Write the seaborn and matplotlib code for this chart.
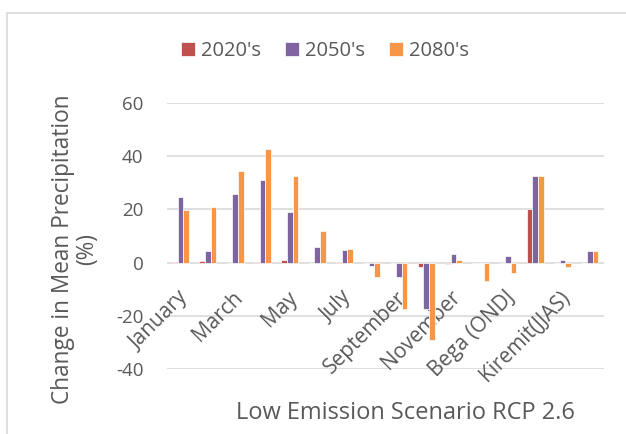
import matplotlib
matplotlib.use("Agg")
import matplotlib.pyplot as plt
from matplotlib.lines import Line2D
from matplotlib.transforms import ScaledTranslation
import seaborn as sns
import pandas as pd

# periods (monthly, seasonal, annual)
periods = ["January", "February", "March", "April", "May", "June", "July",
           "August", "September", "October", "November", "December",
           "Bega (ONDJ", "Belg (FMAM)", "Kiremit(JJAS)", "Annual"]
scenarios = ["2020's", "2050's", "2080's"]

# change in mean precipitation (%)
chg_2020 = [0.3, 0.8, 0.0, 0.4, 1.0, 0.0, 0.2, -0.3,
            -0.3, -1.7, -0.5, 0.0, -0.3, 20.0, 0.0, 0.0]
chg_2050 = [24.7, 4.4, 25.8, 31.0, 18.9, 5.8, 4.7, -1.1,
            -5.5, -17.2, 3.3, 0.0, 2.5, 32.4, 1.0, 4.3]
chg_2080 = [19.6, 20.9, 34.2, 42.5, 32.5, 11.8, 5.1, -5.2,
            -17.4, -29.0, 1.0, -6.8, -3.9, 32.4, -1.5, 4.3]
yticks = [-40, -20, 0, 20, 40, 60]

colors = ["#C0504D", "#8064A2", "#F79646"]
grey = "#595959"
grid = "#D9D9D9"

df = pd.DataFrame({
    "period": periods * 3,
    "scenario": [s for s in scenarios for _ in periods],
    "change": chg_2020 + chg_2050 + chg_2080,
})

sns.set_style("white")
plt.rcParams["font.family"] = ["Open Sans", "DejaVu Sans"]
plt.rcParams["axes.unicode_minus"] = False

fig = plt.figure(figsize=(6.26, 4.34), dpi=100)
ax = fig.add_axes([167 / 626, 1 - 369.3 / 434, 436.5 / 626, 266.6 / 434])

sns.barplot(data=df, x="period", y="change", hue="scenario", order=periods,
            hue_order=scenarios, palette=colors, saturation=1, width=0.62,
            ax=ax, edgecolor="white", linewidth=0.5, legend=True)

ax.set_ylim(-40, 60)
ax.set_xlim(-0.5, len(periods) - 0.5)
ax.set_yticks(yticks)
# gridlines behind the bars
for v in yticks:
    ax.axhline(v, color=grid, linewidth=1.2, zorder=0.5)
for s in ["left", "top", "right", "bottom"]:
    ax.spines[s].set_visible(False)
# category labels sit next to the zero line, like Excel
ax.spines["bottom"].set_position(("data", 0))

ax.tick_params(axis="x", length=0, pad=16)
ax.tick_params(axis="y", length=0, pad=17, labelsize=13.5, labelcolor=grey)
ax.set_xticks(range(0, len(periods), 2))
ax.set_xticklabels(periods[::2], rotation=45, ha="right", va="top",
                   rotation_mode="anchor", fontsize=15, color=grey)
shift = ScaledTranslation(-0.03, -0.02, fig.dpi_scale_trans)
for lab in ax.get_xticklabels():
    lab.set_transform(lab.get_transform() + shift)
ax.set_xlabel("")
ax.set_ylabel("Change in Mean Precipitation\n(%)", fontsize=16.3, color=grey,
              linespacing=1.0)
ax.yaxis.set_label_coords(-0.155, 0.45)

ax.legend(loc="center", bbox_to_anchor=(325 / 626, 1 - 51 / 434),
          bbox_transform=fig.transFigure, ncol=3, frameon=False,
          fontsize=14.5, labelcolor=grey, handlelength=0.7, handleheight=0.7,
          handletextpad=0.3, columnspacing=1.2)

fig.text(405 / 626, 1 - 413 / 434, "Low Emission Scenario RCP 2.6",
         ha="center", va="center", fontsize=17, color=grey)

# chart frame (cropped at right and bottom)
fig.add_artist(Line2D([7 / 626, 7 / 626], [0, 1 - 13 / 434],
                      color=grid, linewidth=1.2))
fig.add_artist(Line2D([7 / 626, 1], [1 - 13 / 434, 1 - 13 / 434],
                      color=grid, linewidth=1.2))

fig.savefig("out.png", dpi=100)
